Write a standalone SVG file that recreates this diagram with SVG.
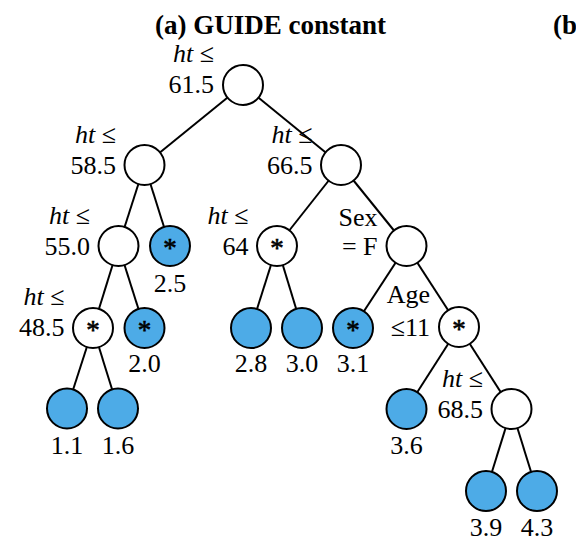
<svg xmlns="http://www.w3.org/2000/svg" width="576" height="550" viewBox="0 0 576 550">
<style>
  .n { stroke: #000; stroke-width: 2; }
  .w { fill: #fff; }
  .b { fill: #4DABE7; }
  .t { font-family: "Liberation Serif", "Times New Roman", serif; font-size: 26px; fill: #000; }
  .r { text-anchor: end; }
  .c { text-anchor: middle; }
  .i { font-style: italic; }
  .s { font-size: 27px; stroke: #000; stroke-width: 0.6; }
  .title { font-family: "Liberation Serif", "Times New Roman", serif; font-size: 27px; font-weight: bold; fill: #000; }
  .e { stroke: #000; stroke-width: 2; fill: none; }
</style>
<rect width="576" height="550" fill="#fff"/>
<text class="title c" x="270.5" y="34">(a) GUIDE constant</text>
<text class="title" x="553" y="34">(b</text>
<g id="connectors" class="e">
  <line x1="243" y1="85" x2="144.5" y2="165"/>
  <line x1="243" y1="85" x2="341" y2="165"/>
  <line x1="144.5" y1="165" x2="118.5" y2="246"/>
  <line x1="144.5" y1="165" x2="170" y2="246"/>
  <line x1="118.5" y1="246" x2="93" y2="328"/>
  <line x1="118.5" y1="246" x2="144.5" y2="328"/>
  <line x1="93" y1="328" x2="67" y2="408.5"/>
  <line x1="93" y1="328" x2="118" y2="408.5"/>
  <line x1="341" y1="165" x2="277" y2="246"/>
  <line x1="341" y1="165" x2="406.5" y2="246"/>
  <line x1="277" y1="246" x2="251" y2="328"/>
  <line x1="277" y1="246" x2="302" y2="328"/>
  <line x1="406.5" y1="246" x2="353" y2="328"/>
  <line x1="406.5" y1="246" x2="459" y2="327"/>
  <line x1="459" y1="327" x2="406.5" y2="409"/>
  <line x1="459" y1="327" x2="511.5" y2="409"/>
  <line x1="511.5" y1="409" x2="486" y2="491"/>
  <line x1="511.5" y1="409" x2="537" y2="491"/>
</g>
<g id="root">
  <circle class="n w" cx="243" cy="85" r="20"/>
  <text class="t r" x="214" y="62"><tspan class="i">ht</tspan> ≤</text>
  <text class="t r" x="214" y="93">61.5</text>
</g>
<g id="n-58">
  <circle class="n w" cx="144.5" cy="165" r="20"/>
  <text class="t r" x="116" y="143"><tspan class="i">ht</tspan> ≤</text>
  <text class="t r" x="116" y="174">58.5</text>
</g>
<g id="n-66">
  <circle class="n w" cx="341" cy="165" r="20"/>
  <text class="t r" x="312.5" y="143"><tspan class="i">ht</tspan> ≤</text>
  <text class="t r" x="312.5" y="174">66.5</text>
</g>
<g id="n-55">
  <circle class="n w" cx="118.5" cy="246" r="20"/>
  <text class="t r" x="90" y="224"><tspan class="i">ht</tspan> ≤</text>
  <text class="t r" x="90" y="255">55.0</text>
</g>
<g id="leaf-2.5">
  <circle class="n b" cx="170" cy="246" r="20"/>
  <text class="t s c" x="170" y="257">*</text>
  <text class="t c" x="170" y="292">2.5</text>
</g>
<g id="n-64">
  <circle class="n w" cx="277" cy="246" r="20"/>
  <text class="t s c" x="277" y="257">*</text>
  <text class="t r" x="248.5" y="224"><tspan class="i">ht</tspan> ≤</text>
  <text class="t r" x="248.5" y="255">64</text>
</g>
<g id="n-sex">
  <circle class="n w" cx="406.5" cy="246" r="20"/>
  <text class="t r" x="377.5" y="226">Sex</text>
  <text class="t r" x="377.5" y="255">= F</text>
</g>
<g id="n-48">
  <circle class="n w" cx="93" cy="328" r="20"/>
  <text class="t s c" x="93" y="339">*</text>
  <text class="t r" x="64.5" y="305"><tspan class="i">ht</tspan> ≤</text>
  <text class="t r" x="64.5" y="336">48.5</text>
</g>
<g id="leaf-2.0">
  <circle class="n b" cx="144.5" cy="328" r="20"/>
  <text class="t s c" x="144.5" y="339">*</text>
  <text class="t c" x="144.5" y="372">2.0</text>
</g>
<g id="leaf-2.8">
  <circle class="n b" cx="251" cy="328" r="20"/>
  <text class="t c" x="251" y="372">2.8</text>
</g>
<g id="leaf-3.0">
  <circle class="n b" cx="302" cy="328" r="20"/>
  <text class="t c" x="302" y="372">3.0</text>
</g>
<g id="leaf-3.1">
  <circle class="n b" cx="353" cy="328" r="20"/>
  <text class="t s c" x="353" y="339">*</text>
  <text class="t c" x="353" y="372">3.1</text>
</g>
<g id="n-age">
  <circle class="n w" cx="459" cy="327" r="20"/>
  <text class="t s c" x="459" y="338">*</text>
  <text class="t r" x="430" y="303">Age</text>
  <text class="t r" x="430" y="336">≤11</text>
</g>
<g id="leaf-1.1">
  <circle class="n b" cx="67" cy="408.5" r="20"/>
  <text class="t c" x="67" y="454">1.1</text>
</g>
<g id="leaf-1.6">
  <circle class="n b" cx="118" cy="408.5" r="20"/>
  <text class="t c" x="118" y="454">1.6</text>
</g>
<g id="leaf-3.6">
  <circle class="n b" cx="406.5" cy="409" r="20"/>
  <text class="t c" x="406.5" y="454">3.6</text>
</g>
<g id="n-68">
  <circle class="n w" cx="511.5" cy="409" r="20"/>
  <text class="t r" x="483" y="387"><tspan class="i">ht</tspan> ≤</text>
  <text class="t r" x="483" y="418">68.5</text>
</g>
<g id="leaf-3.9">
  <circle class="n b" cx="486" cy="491" r="20"/>
  <text class="t c" x="486" y="536">3.9</text>
</g>
<g id="leaf-4.3">
  <circle class="n b" cx="537" cy="491" r="20"/>
  <text class="t c" x="537" y="536">4.3</text>
</g>
</svg>
